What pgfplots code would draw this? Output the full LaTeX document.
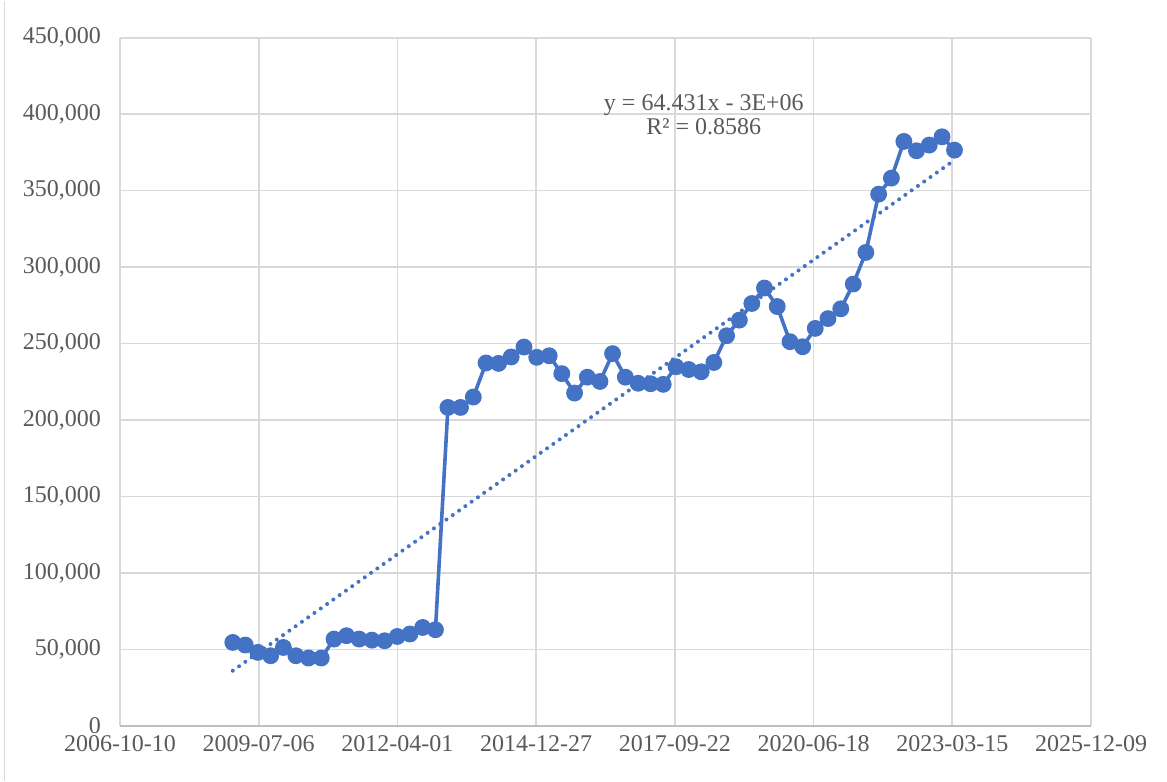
\documentclass[border=0pt]{standalone}
\usepackage{fontspec}
\setmainfont{Liberation Serif}
\usepackage{pgfplots}
\pgfplotsset{compat=1.18}
\definecolor{ser}{HTML}{4472C4}
\definecolor{txt}{HTML}{595959}
\definecolor{grd}{HTML}{D9D9D9}
\definecolor{axl}{HTML}{BFBFBF}
\begin{document}
\begin{tikzpicture}
\begin{axis}[
  scale only axis, width=485.5pt, height=344pt,
  xmin=39000, xmax=46000, ymin=0, ymax=450000,
  xtick={39000,40000,41000,42000,43000,44000,45000,46000},
  xticklabels={2006-10-10,2009-07-06,2012-04-01,2014-12-27,2017-09-22,2020-06-18,2023-03-15,2025-12-09},
  ytick={0,50000,100000,150000,200000,250000,300000,350000,400000,450000},
  scaled y ticks=false, scaled x ticks=false,
  /pgf/number format/fixed,
  /pgf/number format/1000 sep={,},
  /pgf/number format/assume math mode=true,
  tick label style={font=\fontsize{12}{14}\selectfont, text=txt},
  xticklabel style={yshift=-1.5pt},
  yticklabel style={xshift=-6pt},
  major tick length=0pt,
  grid=major, grid style={grd, line width=0.8pt},
  axis lines*=left,
  x axis line style={axl, line width=0.8pt, -},
  y axis line style={draw=none},
  clip=false,
]
\addplot[ser, line width=1.8pt, mark=*, mark size=3.3pt, mark options={fill=ser, draw=ser}] coordinates {
(39813,54500) (39903,52800) (39994,48000) (40086,45800) (40178,51200)
(40268,45800) (40359,44300) (40451,44300) (40543,56700)
(40633,58900) (40724,56700) (40816,56000) (40908,55600)
(40999,58400) (41090,60000) (41182,64300) (41274,62800)
(41364,208200) (41455,208200) (41547,215000) (41639,237300)
(41729,237000) (41820,241200) (41912,247700) (42004,241000)
(42094,242000) (42185,230300) (42277,217600) (42369,228000)
(42460,225200) (42551,243400) (42643,228000) (42735,224000)
(42825,223700) (42916,223300) (43008,234800) (43100,233000)
(43190,231500) (43281,237600) (43373,255100) (43465,265300)
(43555,276200) (43646,286300) (43738,274200) (43830,251200)
(43921,247900) (44012,259900) (44104,266300) (44196,272700)
(44286,288900) (44377,309600) (44469,347700) (44561,358200)
(44651,382200) (44742,376100) (44834,379800) (44926,385200)
(45016,376500)
};
\addplot[ser, line width=2pt, line cap=round, dash pattern=on 0pt off 3.85pt] coordinates {(39813,36000) (45016,370000)};
\node[align=center, text=txt, font=\fontsize{12}{11.75}\selectfont] at (axis cs:43209,399600) {y = 64.431x - 3E+06\\R² = 0.8586};
\end{axis}
\path ([shift={(-60pt,-27.5pt)}]current axis.south west) rectangle ([shift={(38pt,18.5pt)}]current axis.north east);
\draw[grd, line width=0.75pt] ([shift={(-57.75pt,-27.5pt)}]current axis.south west) -- ([shift={(-57.75pt,18.5pt)}]current axis.north west);
\end{tikzpicture}
\end{document}
